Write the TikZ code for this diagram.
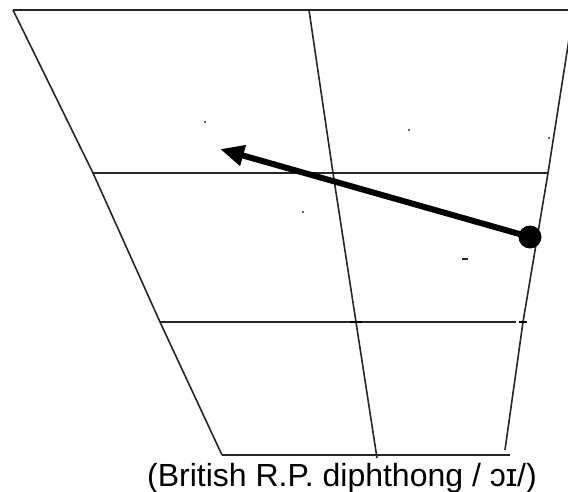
\documentclass[tikz,border=0pt]{standalone}
\usepackage{fontspec}
\setmainfont{Liberation Sans}
\usetikzlibrary{arrows.meta}
\begin{document}
\begin{tikzpicture}[x=1pt,y=-1pt,
  gridline/.style={line width=1.6pt,black!85},
  glide/.style={line width=6pt,-{Triangle[length=24pt,width=20pt]}},
  speck/.style={fill=black!80,inner sep=0pt,minimum size=2.2pt,circle}]
\useasboundingbox (0,0) rectangle (568,492);
\clip (0,0) rectangle (568,492);
% corners
\coordinate (TL) at (13,10);
\coordinate (TM) at (309,10);
\coordinate (TR) at (575,10);
\coordinate (RT) at (572,20);
\coordinate (L1) at (93,173);
\coordinate (M1) at (333,173);
\coordinate (R1) at (548,173);
\coordinate (L2) at (160,322);
\coordinate (M2) at (356,322);
\coordinate (R2) at (523,322);
\coordinate (R2e) at (516,322);
\coordinate (BL) at (222,455);
\coordinate (BM) at (377,458);
\coordinate (BR) at (510,455);
\coordinate (RB) at (505,450);
% grid
\draw[gridline] (TL) -- (TR);
\draw[gridline] (TL) -- (L1) -- (L2) -- (BL);
\draw[gridline] (TM) -- (M1) -- (M2) -- (BM);
\draw[gridline] (RT) -- (R1) -- (R2) -- (RB);
\draw[gridline] (L1) -- (R1);
\draw[gridline] (L2) -- (R2e);
\draw[gridline] (BL) -- (BR);
\draw[line width=2.2pt] ([xshift=-6pt]M2) -- ([xshift=6pt]M2);
\draw[line width=1.5pt] ([xshift=-4pt]R2) -- ([xshift=4pt]R2);
% specks
\node[speck] (s1) at (205,122) {};
\node[speck] (s2) at (409,130) {};
\node[speck] (s3) at (303,212) {};
\node[speck] (s4) at (549,138) {};
\node[fill=black!85,inner sep=0pt,minimum width=6pt,minimum height=2pt] (s5) at (465,259) {};
% diphthong
\node[circle,fill=black,minimum size=23pt,inner sep=0pt] (start) at (530,237) {};
\coordinate (end) at (220,149);
\draw[glide] (start.center) -- (end);
% caption
\node[anchor=base,font=\fontsize{32}{38}\selectfont,inner sep=0pt] (cap) at (342,486) {(British R.P. diphthong / ɔɪ/)};
\end{tikzpicture}
\end{document}
